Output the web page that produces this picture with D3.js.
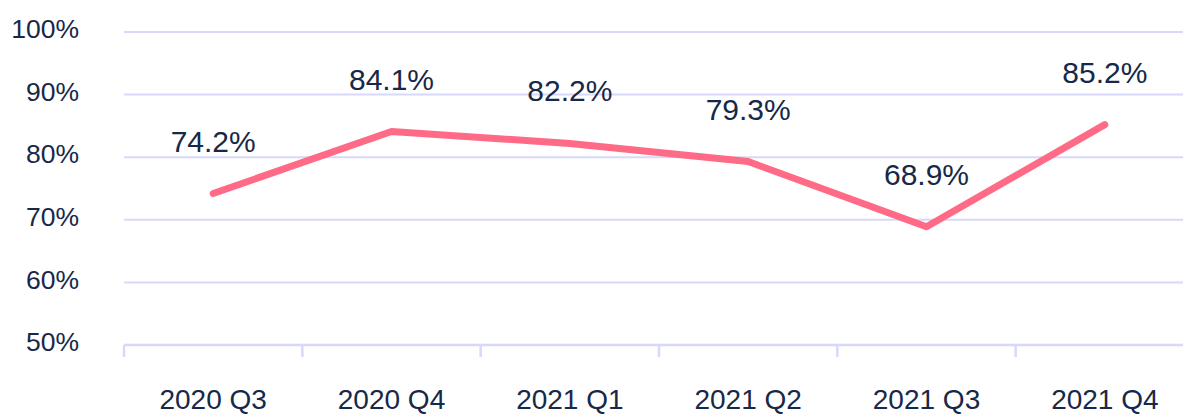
<!DOCTYPE html>
<html>
<head>
<meta charset="utf-8">
<script src="https://cdn.jsdelivr.net/npm/d3@7"></script>
<style>
  body { margin: 0; background: #fff; }
  svg { display: block; font-family: 'Liberation Sans', Arial, sans-serif; }
</style>
</head>
<body>
<div id="chart"></div>
<script>
var quarters = ['2020 Q3', '2020 Q4', '2021 Q1', '2021 Q2', '2021 Q3', '2021 Q4']
var rates = [74.2, 84.1, 82.2, 79.3, 68.9, 85.2]
var yTicks = [50, 60, 70, 80, 90, 100]

var width = 1183
var height = 414
var margin = { top: 32, left: 124, right: -11, bottom: 69 }

var textColor = '#172848'
var gridColor = '#d8d8fa'

var svg = d3.select('#chart')
  .append('svg')
  .attr('width', width)
  .attr('height', height)

var x = d3.scaleBand()
  .domain(quarters)
  .range([margin.left, width - margin.right])

var y = d3.scaleLinear()
  .domain([50, 100])
  .range([height - margin.bottom, margin.top])

// gridlines
svg.append('g')
  .selectAll('line')
  .data(yTicks.filter(d => d > 50))
  .enter()
  .append('line')
  .attr('x1', margin.left)
  .attr('x2', width)
  .attr('y1', d => y(d))
  .attr('y2', d => y(d))
  .attr('stroke', gridColor)
  .attr('stroke-width', 2)

// y labels
svg.append('g')
  .selectAll('text')
  .data(yTicks)
  .enter()
  .append('text')
  .attr('x', 79)
  .attr('y', d => y(d) - 3)
  .attr('dy', '0.35em')
  .attr('text-anchor', 'end')
  .attr('fill', textColor)
  .style('font-size', '26.5px')
  .text(d => d + '%')

// x axis
var xAxis = d3.axisBottom(x)
  .tickSize(12)
  .tickSizeOuter(0)
  .tickPadding(32)

var gx = svg.append('g')
  .attr('transform', `translate(0,${y(50)})`)
  .call(xAxis)

gx.select('.domain')
  .attr('stroke', gridColor)
  .attr('stroke-width', 2.5)
  .attr('d', `M${margin.left},0H${width}`)

// ticks sit on band edges, not centres
gx.selectAll('.tick line')
  .attr('stroke', gridColor)
  .attr('stroke-width', 2.5)
  .attr('transform', `translate(${-x.bandwidth() / 2},0)`)

gx.append('line')
  .attr('x1', x(quarters[quarters.length - 1]) + x.bandwidth())
  .attr('x2', x(quarters[quarters.length - 1]) + x.bandwidth())
  .attr('y1', 0)
  .attr('y2', 12)
  .attr('stroke', gridColor)
  .attr('stroke-width', 2.5)

gx.selectAll('.tick text')
  .attr('fill', textColor)
  .style('font-size', '28px')
  .style('font-family', "'Liberation Sans', Arial, sans-serif")

// line
var line = d3.line()
  .x((d, i) => x(quarters[i]) + x.bandwidth() / 2)
  .y(d => y(d))

svg.append('path')
  .datum(rates)
  .attr('d', line)
  .attr('fill', 'none')
  .attr('stroke', '#ff6b86')
  .attr('stroke-width', 7)
  .attr('stroke-linecap', 'round')
  .attr('stroke-linejoin', 'round')

// data labels
svg.append('g')
  .selectAll('text')
  .data(rates)
  .enter()
  .append('text')
  .attr('x', (d, i) => x(quarters[i]) + x.bandwidth() / 2)
  .attr('y', d => y(d) - 42)
  .attr('text-anchor', 'middle')
  .attr('fill', textColor)
  .style('font-size', '30px')
  .text(d => d.toFixed(1) + '%')
</script>
</body>
</html>
